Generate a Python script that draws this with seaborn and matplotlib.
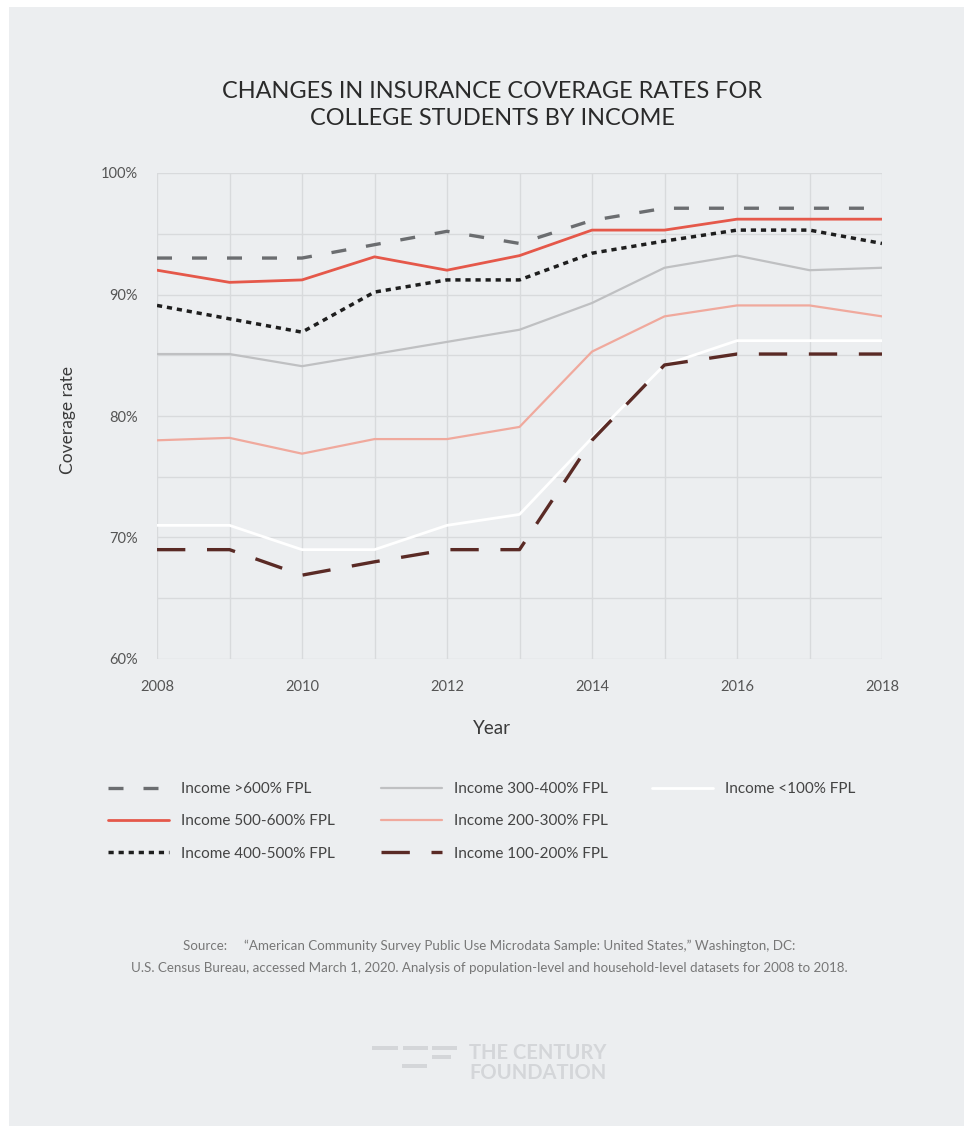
import matplotlib
matplotlib.use("Agg")
import matplotlib.pyplot as plt
from matplotlib.patches import Rectangle
from matplotlib.ticker import MultipleLocator, FuncFormatter
import seaborn as sns

# Coverage rates (%) by income group, 2008-2018
years = list(range(2008, 2019))
income_gt600 = [93.0, 93.0, 93.0, 94.1, 95.2, 94.2, 96.1, 97.1, 97.1, 97.1, 97.1]
income_500_600 = [92.0, 91.0, 91.2, 93.1, 92.0, 93.2, 95.3, 95.3, 96.2, 96.2, 96.2]
income_400_500 = [89.1, 88.0, 86.9, 90.2, 91.2, 91.2, 93.4, 94.4, 95.3, 95.3, 94.2]
income_300_400 = [85.1, 85.1, 84.1, 85.1, 86.1, 87.1, 89.3, 92.2, 93.2, 92.0, 92.2]
income_200_300 = [78.0, 78.2, 76.9, 78.1, 78.1, 79.1, 85.3, 88.2, 89.1, 89.1, 88.2]
income_lt100 = [71.0, 71.0, 69.0, 69.0, 71.0, 71.9, 78.2, 84.2, 86.2, 86.2, 86.2]
income_100_200 = [69.0, 69.0, 66.9, 68.0, 69.0, 69.0, 78.0, 84.2, 85.1, 85.1, 85.1]

labels = [
    "Income >600% FPL",
    "Income 500-600% FPL",
    "Income 400-500% FPL",
    "Income 300-400% FPL",
    "Income 200-300% FPL",
    "Income <100% FPL",
    "Income 100-200% FPL",
]
series = [income_gt600, income_500_600, income_400_500, income_300_400,
          income_200_300, income_lt100, income_100_200]

styles = [
    dict(color="#6b6d70", lw=2.4, ls=(0, (4.5, 6.0))),
    dict(color="#e5584a", lw=2.0, ls="-"),
    dict(color="#1e1e1e", lw=2.5, ls=(0, (1.5, 1.4))),
    dict(color="#bfc0c2", lw=1.6, ls="-"),
    dict(color="#f0a99d", lw=1.6, ls="-"),
    dict(color="#ffffff", lw=2.0, ls="-"),
    dict(color="#5a2a25", lw=2.4, ls=(0, (8.5, 6.5))),
]

BG = "#eceef0"
W, H = 964, 1126

sns.set_theme(style="white")
plt.rcParams["font.family"] = ["Lato", "DejaVu Sans"]

fig = plt.figure(figsize=(W / 100, H / 100), dpi=100)
fig.patch.set_facecolor("white")


def fx(px):
    return px / W


def fy(py):
    return 1 - py / H


# card background
fig.patches.append(Rectangle((fx(9), 0), 1 - fx(9), fy(7), transform=fig.transFigure,
                             facecolor=BG, edgecolor="none", zorder=-10))

ax = fig.add_axes([fx(157), fy(659), fx(882) - fx(157), fy(173) - fy(659)])
ax.set_facecolor(BG)

handles = []
for vals, lab, st in zip(series, labels, styles):
    sns.lineplot(x=years, y=vals, ax=ax, color=st["color"], linewidth=st["lw"],
                 linestyle=st["ls"], label=lab, legend=False)
    handles.append(ax.lines[-1])

ax.set_xlim(2008, 2018)
ax.set_ylim(60, 100)
ax.xaxis.set_major_locator(MultipleLocator(2))
ax.xaxis.set_minor_locator(MultipleLocator(1))
ax.yaxis.set_major_locator(MultipleLocator(10))
ax.yaxis.set_minor_locator(MultipleLocator(5))
ax.yaxis.set_major_formatter(FuncFormatter(lambda v, p: f"{v:.0f}%"))
ax.grid(True, which="both", color="#d8dadc", linewidth=1.0)
ax.set_axisbelow(True)
for s in ax.spines.values():
    s.set_visible(False)
ax.tick_params(axis="both", which="both", length=0, labelsize=10.5, labelcolor="#555555")
ax.tick_params(axis="y", pad=14)
ax.tick_params(axis="x", pad=15)
ax.set_xlabel("")
ax.set_ylabel("")

fig.text(fx(492), fy(105), "CHANGES IN INSURANCE COVERAGE RATES FOR\nCOLLEGE STUDENTS BY INCOME",
         ha="center", va="center", fontsize=16.9, color="#2a2a2a", linespacing=1.3)
fig.text(fx(68), fy(420), "Coverage rate", rotation=90, ha="center", va="center",
         fontsize=12.5, color="#3a3a3a")
fig.text(fx(492), fy(728), "Year", ha="center", va="center", fontsize=13.5, color="#3a3a3a")

# legend in three columns
cols = [(handles[0:3], labels[0:3], 108), (handles[3:5] + [handles[6]],
        [labels[3], labels[4], labels[6]], 381), ([handles[5]], [labels[5]], 652)]
for hs, ls_, x0 in cols:
    leg = fig.legend(hs, ls_, loc="upper left", bbox_to_anchor=(fx(x0), fy(782)),
                     bbox_transform=fig.transFigure, frameon=False, fontsize=11,
                     handlelength=4.0, handletextpad=0.75, labelspacing=1.2,
                     borderpad=0, borderaxespad=0)
    for t in leg.get_texts():
        t.set_color("#444444")

fig.text(fx(489), fy(946),
         "Source:     \u201cAmerican Community Survey Public Use Microdata Sample: United States,\u201d Washington, DC:",
         ha="center", va="center", fontsize=9.6, color="#777777")
fig.text(fx(489), fy(968),
         "U.S. Census Bureau, accessed March 1, 2020. Analysis of population-level and household-level datasets for 2008 to 2018.",
         ha="center", va="center", fontsize=9.6, color="#777777")

# footer mark
LOGO = "#d4d6d9"
for x0, x1, y0, y1 in [(372, 398, 1046, 1050), (403, 428, 1046, 1050), (432, 457, 1046, 1050),
                       (432, 451, 1055, 1059), (402, 427, 1064, 1068)]:
    fig.patches.append(Rectangle((fx(x0), fy(y1)), fx(x1) - fx(x0), fy(y0) - fy(y1),
                                 transform=fig.transFigure, facecolor=LOGO, edgecolor="none"))
fig.text(fx(538), fy(1053), "THE CENTURY", ha="center", va="center", fontsize=14.5,
         fontweight="bold", color=LOGO)
fig.text(fx(538), fy(1073), "FOUNDATION", ha="center", va="center", fontsize=14.5,
         fontweight="bold", color=LOGO)

fig.savefig("out.png", dpi=100, facecolor=fig.get_facecolor())
